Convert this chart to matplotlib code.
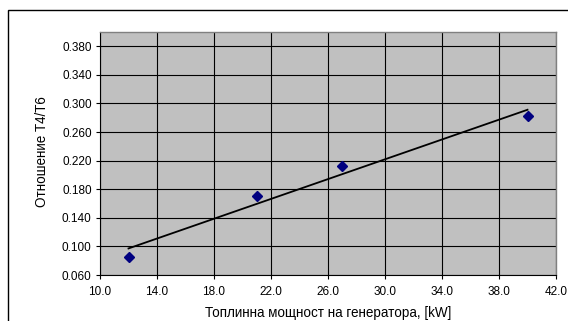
import numpy as np
import matplotlib
matplotlib.use("Agg")
import matplotlib.pyplot as plt
from matplotlib.patches import Rectangle

plt.rcParams['font.family'] = ['Liberation Sans', 'DejaVu Sans']

power_kw = [12.0, 21.0, 27.0, 40.0]
ratio_t4_t6 = [0.085, 0.170, 0.212, 0.282]
x_ticks = [10.0, 14.0, 18.0, 22.0, 26.0, 30.0, 34.0, 38.0, 42.0]
y_ticks = [0.060, 0.100, 0.140, 0.180, 0.220, 0.260, 0.300, 0.340, 0.380]
x_label = "Топлинна мощност на генератора, [kW]"
y_label = "Отношение Т4/Т6"

W, H = 568, 321
fig = plt.figure(figsize=(W / 100, H / 100), dpi=100)
fig.patch.set_facecolor('white')

# chart frame (clipped by image on right/bottom)
fig.patches.append(Rectangle((8 / W, -0.2), 1.5, 1.2 - 10 / H, transform=fig.transFigure,
                             fill=False, edgecolor='black', linewidth=1.0, clip_on=False))

ax = fig.add_axes([100 / W, (H - 275) / H, 456 / W, 243 / H])
ax.set_facecolor('#C0C0C0')

ax.set_xlim(10, 42)
ax.set_ylim(0.06, 0.40)
ax.set_xticks(x_ticks)
ax.set_yticks(y_ticks)
ax.set_xticklabels([f"{v:.1f}" for v in x_ticks])
ax.set_yticklabels([f"{v:.3f}" for v in y_ticks])
ax.tick_params(axis='both', labelsize=8.5, length=3, width=0.8, color='black', pad=3)
ax.tick_params(axis='x', pad=5)
ax.grid(True, color='black', linewidth=0.8)
ax.set_axisbelow(True)

for s in ['top', 'right']:
    ax.spines[s].set_color('#808080')
    ax.spines[s].set_linewidth(1.0)
for s in ['left', 'bottom']:
    ax.spines[s].set_color('black')
    ax.spines[s].set_linewidth(0.8)

# linear trendline
coef = np.polyfit(power_kw, ratio_t4_t6, 1)
xs = np.array([min(power_kw), max(power_kw)])
ax.plot(xs, np.polyval(coef, xs), color='black', linewidth=1.3, zorder=3)

ax.plot(power_kw, ratio_t4_t6, linestyle='none', marker='D', markersize=5.5,
        color='#000080', zorder=4)

fig.text(328.5 / W, 1 - 313 / H, x_label, ha='center', va='center', fontsize=9.75)
fig.text(42 / W, 1 - 152 / H, y_label, ha='center', va='center', fontsize=9.75, rotation=90)

fig.savefig('out.png', dpi=100)
